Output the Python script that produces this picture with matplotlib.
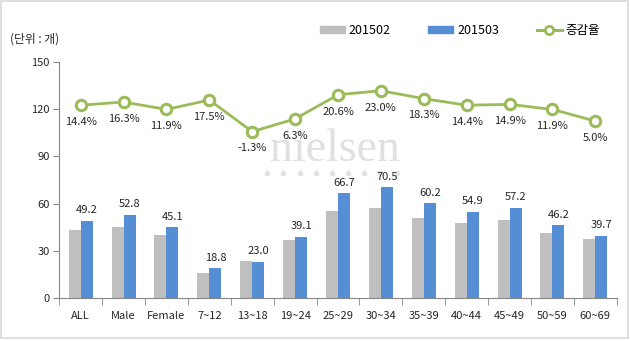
import matplotlib
matplotlib.use('Agg')
import matplotlib.pyplot as plt
from matplotlib.patches import Rectangle
from matplotlib.lines import Line2D
import numpy as np

plt.rcParams['font.family'] = ['Noto Sans CJK KR', 'DejaVu Sans']

# data
categories = ['ALL', 'Male', 'Female', '7~12', '13~18', '19~24', '25~29',
              '30~34', '35~39', '40~44', '45~49', '50~59', '60~69']
feb = [43.0, 45.4, 40.3, 16.0, 23.3, 36.8, 55.3, 57.3, 50.9, 48.0, 49.8, 41.3, 37.8]
mar = [49.2, 52.8, 45.1, 18.8, 23.0, 39.1, 66.7, 70.5, 60.2, 54.9, 57.2, 46.2, 39.7]
growth = [14.4, 16.3, 11.9, 17.5, -1.3, 6.3, 20.6, 23.0, 18.3, 14.4, 14.9, 11.9, 5.0]
yticks = [0, 30, 60, 90, 120, 150]

gray = '#BFBFBF'
blue = '#558ED5'
green = '#9BBB59'
axis_col = '#868686'

fig = plt.figure(figsize=(6.3, 3.41), dpi=100)
fig.patches.append(Rectangle((0.002, 0.008), 0.995, 0.99, transform=fig.transFigure,
                             fill=False, edgecolor='#D9D9D9', linewidth=1.2))

ax = fig.add_axes([0.094, 0.126, 0.885, 0.692])
x = np.arange(len(categories))
w = 0.28
ax.bar(x - w / 2, feb, w, color=gray, zorder=2)
ax.bar(x + w / 2, mar, w, color=blue, zorder=2)
for xi, v in zip(x, mar):
    ax.annotate(f'{v:.1f}', (xi + w / 2, v), xytext=(0, 4), textcoords='offset points',
                ha='center', va='bottom', fontsize=8, color='#262626')

ax.set_xlim(-0.5, len(categories) - 0.5)
ax.set_ylim(0, 150)
ax.set_yticks(yticks)
ax.tick_params(axis='y', labelsize=8, length=4, color=axis_col, labelcolor='#262626', pad=3)
ax.set_xticks(x)
ax.set_xticklabels(categories)
ax.tick_params(axis='x', length=0, labelsize=8, labelcolor='#262626', pad=9)
ax.set_xticks(np.arange(-0.5, len(categories)), minor=True)
ax.tick_params(axis='x', which='minor', length=5, color=axis_col)
for s in ['top', 'right']:
    ax.spines[s].set_visible(False)
ax.spines['left'].set_color(axis_col)
ax.spines['bottom'].set_color(axis_col)

# watermark
ax.text(0.495, 0.63, 'nielsen', transform=ax.transAxes, ha='center', va='center',
        fontsize=33, family='Liberation Serif', color='#E0E0E0', zorder=1)
for dx in np.arange(0.373, 0.62, 0.029):
    ax.plot(dx, 0.53, 'o', transform=ax.transAxes, color='#E3E3E3', markersize=4,
            markeredgewidth=0, zorder=1)

ax2 = ax.twinx()
ax2.set_ylim(-100, 40)
ax2.plot(x, growth, color=green, linewidth=2, marker='o', markersize=7.5,
         markerfacecolor='white', markeredgecolor=green, markeredgewidth=2.2, zorder=3)
for xi, g in zip(x, growth):
    ax2.annotate(f'{g:.1f}%', (xi, g), xytext=(0, -8.5), textcoords='offset points',
                 ha='center', va='top', fontsize=8, color='#262626')
ax2.axis('off')

fig.text(0.016, 0.885, '(단위 : 개)', fontsize=8.5, color='#262626', va='center')

handles = [Rectangle((0, 0), 1, 1, color=gray), Rectangle((0, 0), 1, 1, color=blue),
           Line2D([], [], color=green, linewidth=2.2, marker='o', markersize=6,
                  markerfacecolor='white', markeredgecolor=green, markeredgewidth=2)]
fig.legend(handles, ['201502', '201503', '증감율'], loc='center', ncol=3,
           bbox_to_anchor=(0.73, 0.912), frameon=False, fontsize=9,
           handlelength=2.0, handleheight=0.5, columnspacing=3.0, handletextpad=0.3)

fig.savefig('out.png', dpi=100)
